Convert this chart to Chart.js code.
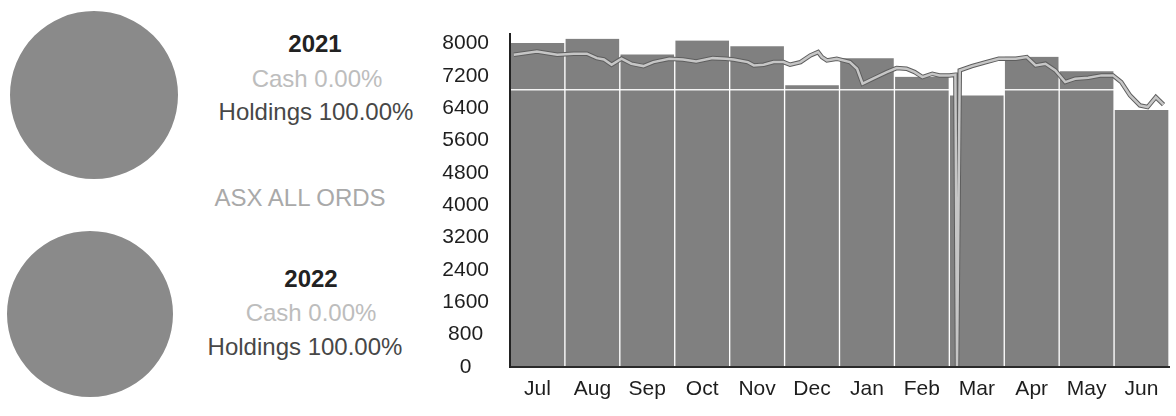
<!DOCTYPE html>
<html>
<head>
<meta charset="utf-8">
<title>ASX ALL ORDS</title>
<script src="https://cdn.jsdelivr.net/npm/chart.js@4.4.1/dist/chart.umd.min.js"></script>
<style>
  html, body { margin: 0; padding: 0; background: #fff; }
  body {
    width: 1176px; height: 416px; position: relative; overflow: hidden;
    font-family: 'Liberation Sans', Arial, sans-serif;
  }
  canvas { position: absolute; }
  .label {
    position: absolute; width: 260px; margin-left: -130px; margin-top: -14px;
    text-align: center; font-size: 24px; line-height: 28px; white-space: nowrap;
  }
  .year { font-weight: bold; color: #222; }
  .cash { color: #bdbdbd; }
  .holdings { color: #474747; }
  .index-name { color: #a9a9a9; }
</style>
</head>
<body>
  <canvas id="pie0" width="168" height="168" style="left:10px; top:11px"></canvas>
  <canvas id="pie1" width="166" height="166" style="left:7px; top:231px"></canvas>

  <div id="year0" class="label year" style="left:315px; top:44px"></div>
  <div id="cash0" class="label cash" style="left:317px; top:79px"></div>
  <div id="hold0" class="label holdings" style="left:316px; top:112px"></div>

  <div id="indexName" class="label index-name" style="left:300px; top:198px"></div>

  <div id="year1" class="label year" style="left:311px; top:279px"></div>
  <div id="cash1" class="label cash" style="left:311px; top:313px"></div>
  <div id="hold1" class="label holdings" style="left:305px; top:347px"></div>

  <canvas id="indexChart" width="756" height="416" style="left:420px; top:0"></canvas>

<script>
// Allocation per year
const years = ['2021', '2022'];
const cashPct = [0, 0];
const holdingsPct = [100, 100];
const indexName = 'ASX ALL ORDS';

// Monthly bars (financial year Jul - Jun)
const months = ['Jul', 'Aug', 'Sep', 'Oct', 'Nov', 'Dec', 'Jan', 'Feb', 'Mar', 'Apr', 'May', 'Jun'];
const monthlyLevel = [8020, 8120, 7735, 8080, 7940, 6970, 7640, 7180, 6720, 7675, 7320, 6360];

// Index line, position in months from start of Jul
const indexPos = [
  0.07, 0.49, 0.86, 1.16, 1.40, 1.58, 1.71, 1.85, 2.03, 2.21, 2.43, 2.61,
  2.90, 3.15, 3.39, 3.69, 3.93, 4.07, 4.33, 4.44, 4.62, 4.80, 4.98, 5.10,
  5.29, 5.47, 5.61, 5.68, 5.77, 5.95, 6.19, 6.32, 6.42, 6.61, 6.86, 7.04,
  7.22, 7.37, 7.51, 7.69, 7.82, 8.00, 8.11, 8.14, 8.19, 8.41, 8.67, 8.90,
  9.21, 9.41, 9.57, 9.75, 9.93, 10.11, 10.29, 10.53, 10.77, 10.98, 11.13, 11.29,
  11.47, 11.61, 11.76, 11.90
];
const indexValues = [
  7727, 7809, 7727, 7752, 7752, 7643, 7611, 7480, 7629, 7505, 7446, 7545,
  7629, 7611, 7562, 7643, 7629, 7611, 7545, 7463, 7480, 7545, 7545, 7480,
  7545, 7710, 7792, 7668, 7587, 7629, 7545, 7381, 7010, 7134, 7297, 7396,
  7381, 7297, 7174, 7257, 7216, 7216, 7233, 0, 7339, 7446, 7545, 7629,
  7629, 7668, 7463, 7505, 7339, 7050, 7134, 7159, 7216, 7216, 7050, 6721,
  6474, 6432, 6679, 6491
];
const streakLevel = 6860;

// Y axis
const yMax = 8250;
const yTickValues = [0, 800, 1600, 2400, 3200, 4000, 4800, 5600, 6400, 7200, 8000];

document.addEventListener('DOMContentLoaded', () => {
    const fontFamily = "'Liberation Sans', Arial, sans-serif";

    // Texts
    years.forEach((year, i) => {
        document.getElementById('year' + i).textContent = year;
        document.getElementById('cash' + i).textContent = `Cash ${cashPct[i].toFixed(2)}%`;
        document.getElementById('hold' + i).textContent = `Holdings ${holdingsPct[i].toFixed(2)}%`;
    });
    document.getElementById('indexName').textContent = indexName;

    // Pies
    years.forEach((year, i) => {
        new Chart(document.getElementById('pie' + i), {
            type: 'pie',
            data: {
                labels: ['Cash', 'Holdings'],
                datasets: [{
                    data: [cashPct[i], holdingsPct[i]],
                    backgroundColor: ['#bdbdbd', '#8a8a8a'],
                    borderWidth: 0
                }]
            },
            options: {
                responsive: false,
                animation: false,
                plugins: { legend: { display: false }, tooltip: { enabled: false } }
            }
        });
    });

    // Index chart
    const indexPoints = indexPos.map((x, i) => ({ x: x, y: indexValues[i] }));
    const streakPoints = [{ x: 0, y: streakLevel }, { x: months.length, y: streakLevel }];
    const tickFont = { family: fontFamily, size: 21 };

    new Chart(document.getElementById('indexChart'), {
        type: 'bar',
        data: {
            labels: months,
            datasets: [
                {
                    type: 'line',
                    data: indexPoints,
                    xAxisID: 'xLine',
                    borderColor: '#c6c6c6',
                    borderWidth: 2.5,
                    pointRadius: 0,
                    tension: 0,
                    order: 0
                },
                {
                    type: 'line',
                    data: indexPoints,
                    xAxisID: 'xLine',
                    borderColor: '#5e5e5e',
                    borderWidth: 4.5,
                    pointRadius: 0,
                    tension: 0,
                    order: 1
                },
                {
                    type: 'line',
                    data: streakPoints,
                    xAxisID: 'xLine',
                    borderColor: 'rgba(255,255,255,0.9)',
                    borderWidth: 1.5,
                    pointRadius: 0,
                    order: 2
                },
                {
                    // white edges between the monthly bars
                    type: 'bar',
                    data: monthlyLevel,
                    xAxisID: 'x',
                    backgroundColor: '#808080',
                    borderColor: '#ffffff',
                    borderWidth: { top: 0, right: 1, bottom: 0, left: 1 },
                    borderSkipped: false,
                    grouped: false,
                    barPercentage: 1,
                    categoryPercentage: 1,
                    order: 3
                }
            ]
        },
        options: {
            responsive: false,
            animation: false,
            layout: { padding: { top: 33, right: 7, bottom: 0, left: 0 } },
            plugins: { legend: { display: false }, tooltip: { enabled: false } },
            scales: {
                x: {
                    type: 'category',
                    offset: true,
                    grid: { display: false, drawTicks: false },
                    border: { color: '#2a2a2a', width: 2, z: 2 },
                    ticks: {
                        color: '#1e1e1e',
                        font: tickFont,
                        padding: 10,
                        maxRotation: 0,
                        autoSkip: false
                    },
                    afterFit: (scale) => { scale.height = 49; }
                },
                xLine: {
                    type: 'linear',
                    min: 0,
                    max: months.length,
                    offset: false,
                    grid: { offset: false },
                    display: false
                },
                y: {
                    min: 0,
                    max: yMax,
                    grid: { display: false, drawTicks: false },
                    border: { color: '#222', width: 2, z: 2 },
                    ticks: {
                        crossAlign: 'center',
                        padding: 21,
                        autoSkip: false,
                        color: '#1e1e1e',
                        font: tickFont,
                        callback: (value) => String(value)
                    },
                    afterBuildTicks: (scale) => {
                        scale.ticks = yTickValues.map(v => ({ value: v }));
                    },
                    afterFit: (scale) => { scale.width = 90; }
                }
            }
        }
    });
});
</script>
</body>
</html>
